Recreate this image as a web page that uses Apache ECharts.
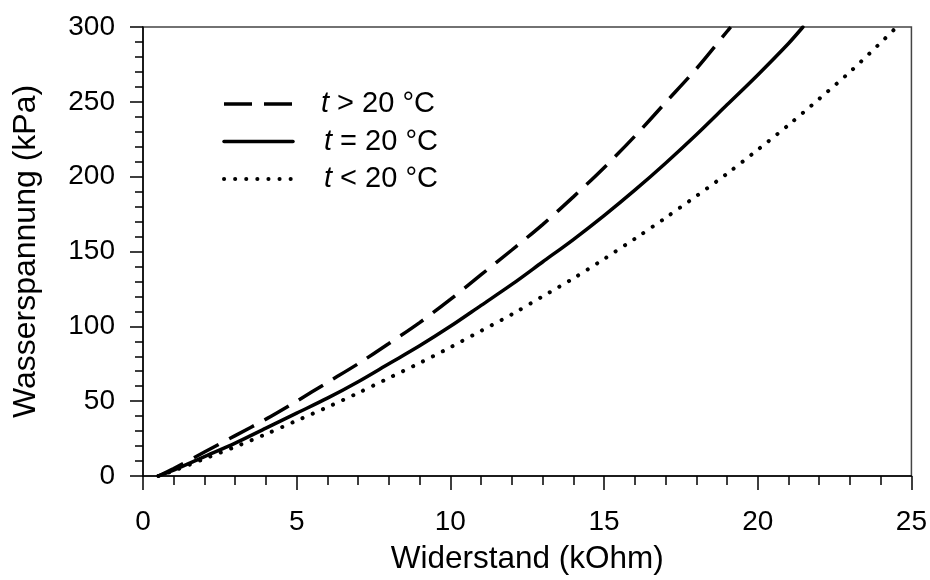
<!DOCTYPE html>
<html>
<head>
<meta charset="utf-8">
<script src="https://cdn.jsdelivr.net/npm/echarts@6/dist/echarts.min.js"></script>
<style>
  html, body { margin: 0; padding: 0; background: #fff; }
  #chart { width: 930px; height: 580px; }
</style>
</head>
<body>
<div id="chart"></div>
<script>
// Widerstand (kOhm) sample positions and the Wasserspannung (kPa) read at each
const xWarm = [0.5, 1, 2, 3, 4, 5, 6, 7, 8, 9, 10, 11, 12, 13, 14, 15, 16, 17, 18, 19, 19.12];
const yWarm = [0, 5, 16, 27, 38, 50, 62.5, 75, 88.5, 102.5, 118, 134.5, 151, 168, 186.5, 206, 227, 249.5, 272, 297, 300];

const xRef = [0.5, 1, 2, 3, 4, 5, 6, 7, 8, 9, 10, 11, 12, 13, 14, 15, 16, 17, 18, 19, 20, 21, 21.47];
const yRef = [0, 4, 13, 22, 32, 42, 52, 63, 75, 87, 100, 114, 128, 143, 158, 174, 191, 209, 228, 248, 268, 289, 300];

const xCold = [0.5, 1, 2, 3, 4, 5, 6, 7, 8, 9, 10, 11, 12, 13, 14, 15, 16, 17, 18, 19, 20, 21, 22, 23, 24, 24.52];
const yCold = [0, 3.5, 11.5, 19.5, 28, 37, 46, 55.5, 65.5, 75.5, 86, 97, 108, 120, 132, 145, 158.5, 172.5, 187, 202, 218, 234.5, 252, 270, 289.5, 300];

const seriesNames = ['warm', 'ref', 'cold'];
const legendLabels = {
  warm: '{g|}{t|t}{n| > 20 °C}',
  ref:  '{h|}{t|t}{n| = 20 °C}',
  cold: '{h|}{t|t}{n| < 20 °C}'
};

const xTicks = { min: 0, max: 25, interval: 5 };
const yTicks = { min: 0, max: 300, interval: 50 };

const pairs = (xs, ys) => xs.map((x, i) => [x, ys[i]]);

const FONT = 'Liberation Sans, Arial, sans-serif';
const INK = '#000';

const styles = {
  warm: { type: [28, 12], cap: 'butt', width: 3.5 },
  ref:  { type: 'solid', cap: 'round', width: 3.5 },
  cold: { type: [0.1, 11], cap: 'round', width: 4 }
};

const chart = echarts.init(document.getElementById('chart'), null, { renderer: 'canvas' });

function lineSeries(name, xs, ys) {
  return {
    name: name,
    type: 'line',
    data: pairs(xs, ys),
    showSymbol: false,
    symbol: 'none',
    smooth: 0.3,
    color: INK,
    itemStyle: { color: INK },
    animation: false,
    lineStyle: Object.assign({ color: INK }, styles[name])
  };
}

chart.setOption({
  animation: false,
  backgroundColor: '#fff',
  color: [INK, INK, INK],
  grid: {
    left: 143, right: 17, top: 27, bottom: 101,
    show: true, borderColor: '#444', borderWidth: 1.5, backgroundColor: 'transparent'
  },
  legend: {
    orient: 'vertical',
    left: 222,
    top: 89,
    padding: 0,
    itemWidth: 69,
    itemHeight: 14,
    itemGap: 7.5,
    data: seriesNames.map(n => ({
      name: n,
      itemStyle: { opacity: 0 },
      lineStyle: Object.assign({ color: INK }, styles[n])
    })),
    formatter: n => legendLabels[n],
    textStyle: {
      color: INK,
      fontFamily: FONT,
      fontSize: 29,
      lineHeight: 30,
      rich: {
        g: { width: 23 },
        h: { width: 26 },
        t: { fontStyle: 'italic', fontFamily: FONT, fontSize: 29, color: INK },
        n: { fontFamily: FONT, fontSize: 29, color: INK }
      }
    }
  },
  xAxis: {
    type: 'value',
    min: xTicks.min, max: xTicks.max, interval: xTicks.interval,
    name: 'Widerstand (kOhm)',
    nameLocation: 'middle',
    nameGap: 67,
    nameTextStyle: { color: INK, fontFamily: FONT, fontSize: 31.5 },
    axisLine: { show: true, onZero: false, lineStyle: { color: INK, width: 1.5 } },
    axisTick: { show: true, inside: false, length: 14, lineStyle: { color: INK, width: 1.5 } },
    minorTick: { show: true, splitNumber: 5, length: 9, lineStyle: { color: INK, width: 1.5 } },
    splitLine: { show: false },
    axisLabel: { color: INK, fontFamily: FONT, fontSize: 28, margin: 32 }
  },
  yAxis: {
    type: 'value',
    min: yTicks.min, max: yTicks.max, interval: yTicks.interval,
    name: 'Wasserspannung (kPa)',
    nameLocation: 'middle',
    nameGap: 101,
    nameRotate: 90,
    nameTextStyle: { color: INK, fontFamily: FONT, fontSize: 32 },
    axisLine: { show: true, onZero: false, lineStyle: { color: INK, width: 1.5 } },
    axisTick: { show: true, inside: false, length: 13, lineStyle: { color: INK, width: 1.5 } },
    minorTick: { show: true, splitNumber: 5, length: 8, lineStyle: { color: INK, width: 1.5 } },
    splitLine: { show: false },
    axisLabel: { color: INK, fontFamily: FONT, fontSize: 28, margin: 28 }
  },
  series: seriesNames.map((n, i) => lineSeries(n, [xWarm, xRef, xCold][i], [yWarm, yRef, yCold][i]))
});
</script>
</body>
</html>
